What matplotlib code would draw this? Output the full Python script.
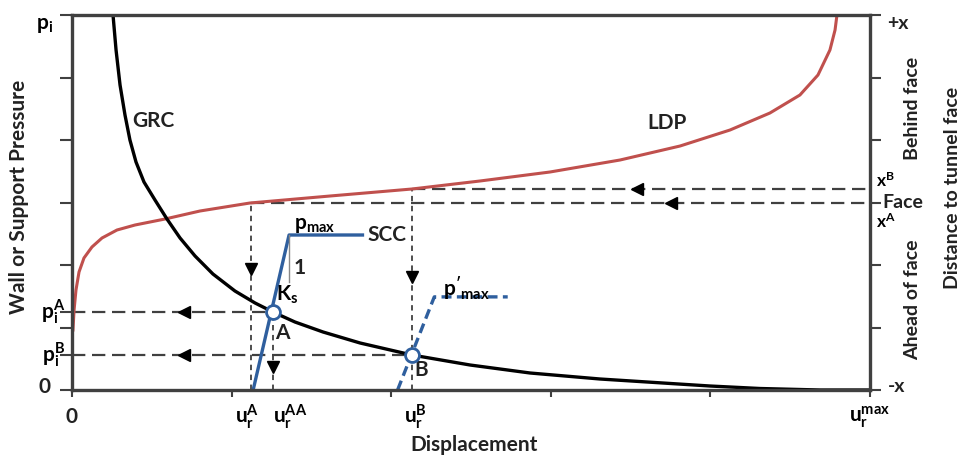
import matplotlib
matplotlib.use("Agg")
import matplotlib.pyplot as plt
import numpy as np

plt.rcParams['font.family'] = ['Lato', 'DejaVu Sans']
plt.rcParams['mathtext.fontset'] = 'custom'
plt.rcParams['mathtext.rm'] = 'Lato'
plt.rcParams['mathtext.it'] = 'Lato'
plt.rcParams['mathtext.bf'] = 'Lato:bold'

# ---- data (displacement units 0..5, pressure units 0..6) ----
grc_u = [0.257, 0.276, 0.301, 0.332, 0.363, 0.401, 0.451, 0.520, 0.595, 0.677, 0.771, 0.883,
         1.021, 1.147, 1.259, 1.397, 1.573, 1.805, 2.130, 2.494, 2.870, 3.308, 3.997, 4.311,
         4.687, 5.000]
grc_p = [6.000, 5.440, 4.880, 4.400, 4.000, 3.648, 3.328, 3.040, 2.736, 2.432, 2.144, 1.856,
         1.584, 1.392, 1.248, 1.088, 0.928, 0.752, 0.560, 0.400, 0.272, 0.176, 0.064, 0.024,
         0.000, 0.000]

ldp_u = [0.006, 0.013, 0.025, 0.044, 0.075, 0.125, 0.188, 0.282, 0.395, 0.583, 0.802, 1.115,
         1.617, 2.130, 2.556, 2.995, 3.434, 3.810, 4.123, 4.373, 4.561, 4.674, 4.749, 4.781,
         4.793]
ldp_p = [0.960, 1.280, 1.600, 1.888, 2.112, 2.288, 2.432, 2.560, 2.640, 2.736, 2.864, 2.992,
         3.104, 3.216, 3.344, 3.488, 3.680, 3.904, 4.160, 4.432, 4.720, 5.040, 5.440, 5.760,
         6.000]

scc_u = [1.135, 1.36, 1.82]
scc_p = [0.0, 2.48, 2.48]
scc2_u = [2.04, 2.27, 2.73]
scc2_p = [0.0, 1.49, 1.49]

point_A = (1.26, 1.25)
point_B = (2.13, 0.56)
u_rA = 1.12
u_rAA = 1.26
u_rB = 2.13
x_face = 3.0
x_B = 3.22
p_iA = 1.25
p_iB = 0.56

fig = plt.figure(figsize=(9.63, 4.58), dpi=100)
ax = fig.add_axes([72/963, 68/458, 798/963, 375/458])
ax.set_xlim(0, 5)
ax.set_ylim(0, 6)

dark = '#404040'
blue = '#2F5F9E'
red = '#C0504D'

# dashed helper lines
hd = dict(color=dark, lw=1.6, dashes=(6, 3))
vd = dict(color=dark, lw=1.3, dashes=(3, 2.5))
ax.plot([0, point_A[0]], [p_iA, p_iA], **hd)
ax.plot([0, point_B[0]], [p_iB, p_iB], **hd)
ax.plot([u_rA, 5], [x_face, x_face], **hd)
ax.plot([u_rB, 5], [x_B, x_B], **hd)
ax.plot([u_rA, u_rA], [0, x_face], **vd)
ax.plot([u_rAA, u_rAA], [0, p_iA], **vd)
ax.plot([u_rB, u_rB], [0, x_B], **vd)

# arrowheads
ax.plot([0.7, 0.7], [p_iA, p_iB], ls='none', marker='<', ms=9, color='black')
ax.plot([3.54], [x_B], ls='none', marker='<', ms=9, color='black')
ax.plot([3.75], [x_face], ls='none', marker='<', ms=9, color='black')
ax.plot([u_rA], [1.93], ls='none', marker='v', ms=9, color='black')
ax.plot([u_rB], [1.81], ls='none', marker='v', ms=9, color='black')
ax.plot([u_rAA], [0.37], ls='none', marker='v', ms=9, color='black')

# curves
ax.plot(ldp_u, ldp_p, color=red, lw=2.2, solid_joinstyle='round')
ax.plot(grc_u, grc_p, color='black', lw=2.4, solid_joinstyle='round')
ax.plot(scc_u, scc_p, color=blue, lw=2.4)
ax.plot(scc2_u, scc2_p, color=blue, lw=2.4, dashes=(3, 1.6))
# slope triangle
ax.plot([1.36, 1.36], [2.48, 1.73], color='#888888', lw=1.0)

ax.plot(*point_A, marker='o', ms=10, mfc='white', mec=blue, mew=2, zorder=5)
ax.plot(*point_B, marker='o', ms=10, mfc='white', mec=blue, mew=2, zorder=5)

# spines / ticks
for s in ax.spines.values():
    s.set_color(dark)
    s.set_linewidth(2.4)
ax.set_xticks([0, 1, 2, 3, 4, 5])
ax.set_xticklabels([])
ax.set_yticks([0, 1, 2, 3, 4, 5, 6, p_iA, p_iB])
ax.set_yticklabels([])
ax.tick_params(axis='x', direction='out', length=5, width=1.5, color=dark)
ax.tick_params(axis='y', direction='out', length=9, width=1.5, color=dark)

ax2 = ax.twinx()
ax2.set_ylim(0, 6)
ax2.set_yticks([0, 1, 2, 3, 4, 5, 6])
ax2.set_yticklabels([])
ax2.tick_params(axis='y', direction='out', length=8, width=1.5, color=dark)
for s in ax2.spines.values():
    s.set_visible(False)

fs = 15
tk = dict(fontsize=fs, fontweight='bold', color='#222222')
tks = dict(fontsize=14, fontweight='bold', color='#222222')
# curve labels
ax.text(0.51, 4.30, 'GRC', ha='center', va='center', **tk)
ax.text(3.73, 4.27, 'LDP', ha='center', va='center', **tk)
ax.text(1.85, 2.48, 'SCC', ha='left', va='center', **tk)
ax.text(1.52, 2.64, r'$\mathbf{p_{max}}$', ha='center', va='center', fontsize=fs)
ax.text(1.39, 1.96, '1', ha='left', va='center', **tk)
ax.text(1.35, 1.52, r'$\mathbf{K_s}$', ha='center', va='center', fontsize=fs)
ax.text(1.32, 0.91, 'A', ha='center', va='center', **tk)
ax.text(2.19, 0.32, 'B', ha='center', va='center', **tk)
ax.text(2.47, 1.63, r"$\mathbf{p'_{max}}$", ha='center', va='center', fontsize=fs)

# left labels
tx = ax.get_yaxis_transform()
ax.text(-0.024, 5.84, r'$\mathbf{p_i}$', transform=tx, ha='right', va='center', fontsize=fs)
ax.text(-0.009, p_iA, r'$\mathbf{p_i^A}$', transform=tx, ha='right', va='center', fontsize=fs)
ax.text(-0.009, p_iB, r'$\mathbf{p_i^B}$', transform=tx, ha='right', va='center', fontsize=fs)
ax.text(-0.0275, 0.05, '0', transform=tx, ha='right', va='center', **tk)
# right labels
ax.text(1.022, 5.87, '+x', transform=tx, ha='left', va='center', **tks)
ax.text(1.007, x_B + 0.13, r'$\mathbf{x^B}$', transform=tx, ha='left', va='center', fontsize=12.5)
ax.text(1.016, x_face, 'Face', transform=tx, ha='left', va='center', **tks)
ax.text(1.007, x_face - 0.30, r'$\mathbf{x^A}$', transform=tx, ha='left', va='center', fontsize=12.5)
ax.text(1.022, 0.05, '-x', transform=tx, ha='left', va='center', **tks)
ax.text(1.053, 4.5, 'Behind face', transform=tx, ha='center', va='center', rotation=90, **tks)
ax.text(1.053, 1.45, 'Ahead of face', transform=tx, ha='center', va='center', rotation=90, **tks)
fig.text(952/963, 1 - 188/458, 'Distance to tunnel face', ha='center', va='center', rotation=90, **tks)
fig.text(19/963, 1 - 197/458, 'Wall or Support Pressure', ha='center', va='center', rotation=90, **tk)

# x labels
xt = ax.get_xaxis_transform()
yl = -0.072
ax.text(0, yl, '0', transform=xt, ha='center', va='center', **tk)
ax.text(1.10, yl, r'$\mathbf{u_r^A}$', transform=xt, ha='center', va='center', fontsize=fs)
ax.text(1.37, yl, r'$\mathbf{u_r^{AA}}$', transform=xt, ha='center', va='center', fontsize=fs)
ax.text(2.15, yl, r'$\mathbf{u_r^B}$', transform=xt, ha='center', va='center', fontsize=fs)
ax.text(5.0, yl, r'$\mathbf{u_r^{max}}$', transform=xt, ha='center', va='center', fontsize=fs)
fig.text(474/963, 1 - 445/458, 'Displacement', ha='center', va='center', **tk)

fig.savefig('out.png', dpi=100)
